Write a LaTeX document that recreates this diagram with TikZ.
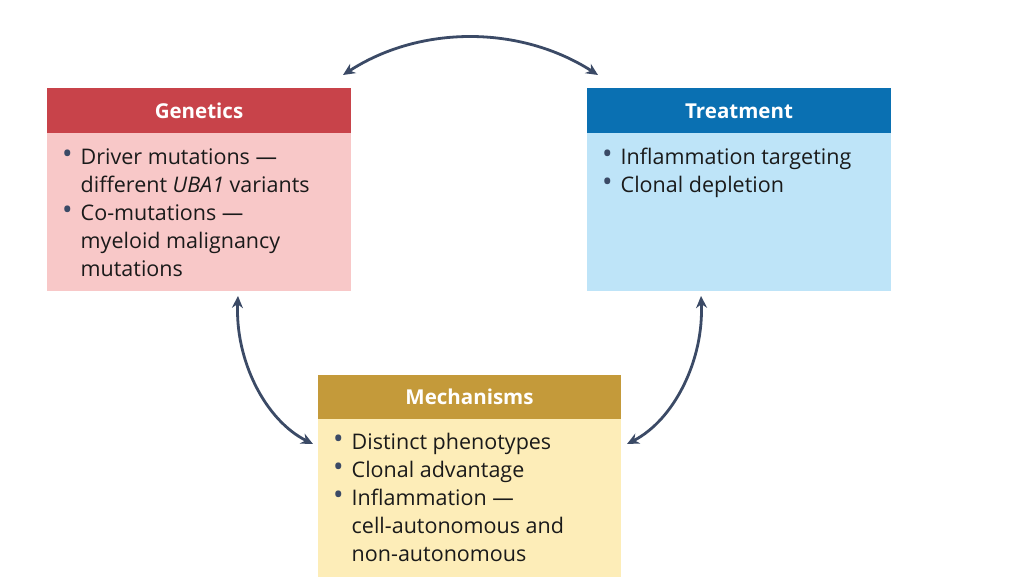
\documentclass[tikz,border=0pt]{standalone}
\usepackage{fontspec}
\setmainfont{Open Sans}
\usetikzlibrary{arrows.meta}
\definecolor{gh}{HTML}{C8434A}\definecolor{gb}{HTML}{F8C8C8}
\definecolor{th}{HTML}{0A70B2}\definecolor{tb}{HTML}{BEE4F8}
\definecolor{mh}{HTML}{C49A3A}\definecolor{mb}{HTML}{FDEDB8}
\definecolor{ar}{HTML}{3B4A66}\definecolor{tx}{HTML}{1A1A1A}
\newcommand{\bul}{\textcolor{ar}{\raisebox{1pt}{\scalebox{1.3}{\textbullet}}}}
\begin{document}
\begin{tikzpicture}[x=1pt,y=-1pt,
 hd/.style={font=\fontsize{20.5}{24}\selectfont\bfseries,text=white},
 bd/.style={anchor=north west,inner sep=0pt,text=tx,font=\fontsize{21.5}{28}\selectfont,align=left},
 arr/.style={ar,line width=2.8pt,{Stealth[length=12pt,width=11pt]}-{Stealth[length=12pt,width=11pt]}}]
\useasboundingbox[fill=white] (0,0) rectangle (1010,577);
\fill[gb] (47,133) rectangle (351,291); \fill[gh] (47,88) rectangle (351,133);
\fill[tb] (587,133) rectangle (891,291); \fill[th] (587,88) rectangle (891,133);
\fill[mb] (318,419) rectangle (621,577); \fill[mh] (318,375) rectangle (621,419);
\node[hd] (g) at (199,111) {Genetics};
\node[hd] (t) at (739,111) {Treatment};
\node[hd] (m) at (469.5,397) {Mechanisms};
\node[bd] (gt) at (62,145) {\begin{tabular}{@{}l@{\hspace{8pt}}l@{}}\bul&Driver mutations —\\&different \textit{UBA1} variants\\\bul&Co-mutations —\\&myeloid malignancy\\&mutations\end{tabular}};
\node[bd] (tt) at (602,145) {\begin{tabular}{@{}l@{\hspace{8pt}}l@{}}\bul&Inflammation targeting\\\bul&Clonal depletion\end{tabular}};
\node[bd] (mt) at (333,430) {\begin{tabular}{@{}l@{\hspace{8pt}}l@{}}\bul&Distinct phenotypes\\\bul&Clonal advantage\\\bul&Inflammation —\\&cell-autonomous and\\&non-autonomous\end{tabular}};
\coordinate (a1) at (343,75); \coordinate (a2) at (598,75);
\draw[arr] (a1) .. controls (420,25) and (520,25) .. (a2);
\coordinate (b1) at (238,296); \coordinate (b2) at (313,444);
\draw[arr] (b1) .. controls (235,360) and (265,420) .. (b2);
\coordinate (c1) at (701,296); \coordinate (c2) at (627,444);
\draw[arr] (c1) .. controls (704,360) and (674,420) .. (c2);
\end{tikzpicture}
\end{document}
